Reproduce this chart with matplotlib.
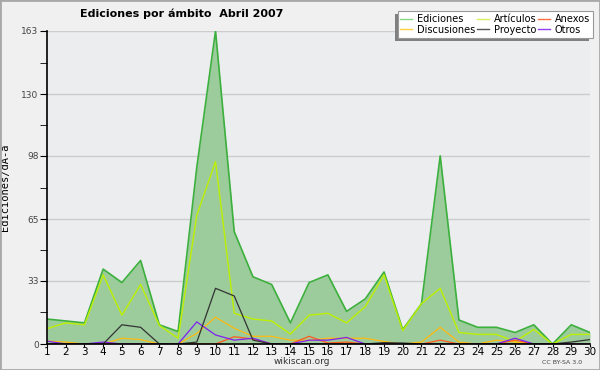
import numpy as np
import matplotlib.pyplot as plt
from matplotlib.lines import Line2D
from matplotlib.patches import Rectangle

# dias del mes
dias = list(range(1, 31))

# valores (ediciones por dia)
ediciones = [13, 12, 11, 39, 32, 43.5, 10, 6.5, 92, 163, 58.5, 35, 31, 11, 32,
             36, 17, 23.5, 37.5, 7.5, 21, 98, 12.5, 8.7, 8.7, 6, 10, 0, 10, 6]
articulos = [8, 11, 10, 36, 15, 31, 9.7, 3, 67, 95, 16, 13, 12, 5.2, 15,
             16, 11, 19.5, 36, 7, 21, 29, 6, 5, 5, 1.2, 7.6, 0, 5, 5]
discusiones = [1.5, 1, 0, 0, 3, 2.3, 0, 0, 5.5, 14, 8.2, 4, 4, 2, 2,
               3, 3, 3, 1.3, 0, 1, 8.7, 1, 0, 2, 1, 0, 0, 0, 0]
anexos = [0, 0, 0, 0, 0, 0, 0, 0, 0, 0, 3.8, 2.6, 0, 0, 4,
          0.5, 1, 0, 0, 0, 0, 2, 0, 0, 0, 2, 0, 0, 0, 0]
otros = [1.5, 0, 0, 1, 0, 0, 0, 0, 11.5, 4.7, 2, 3, 0, 0, 2,
         2, 3.4, 0, 0, 0, 0, 0, 0, 0, 0, 3, 0, 0, 0, 0]
proyecto = [0, 0, 0, 0, 10, 8.7, 0, 0, 1, 29, 25, 2, 0, 0, 0,
            0, 0, 0, 0.7, 0.5, 0, 0, 0, 0, 0, 0, 0, 0, 1, 2.3]

yticks = [0, 33, 65, 98, 130, 163]

fig = plt.figure(figsize=(6, 3.7), dpi=100, facecolor='#f0f0f0')
fig.patches.append(Rectangle((0, 0), 1, 1, transform=fig.transFigure,
                             fill=False, edgecolor='#a8a8a8', linewidth=2))

ax = fig.add_axes([47/600, 1-344/370, 543/600, 313/370])
ax.set_facecolor('#ecedef')

ax.fill_between(dias, ediciones, color='#9ccb9c', linewidth=0)
ax.plot(dias, ediciones, color='#3cb03c', linewidth=1.2)
ax.plot(dias, articulos, color='#bdf000', linewidth=1.0)
ax.plot(dias, discusiones, color='#ffbb10', linewidth=0.9)
ax.plot(dias, anexos, color='#ff5a1e', linewidth=0.9)
ax.plot(dias, otros, color='#8020f0', linewidth=0.9)
ax.plot(dias, proyecto, color='#333333', linewidth=0.9)

ax.set_xlim(1, 30)
ax.set_ylim(0, 163)
ax.set_xticks(dias)
ax.set_yticks(yticks)
ax.set_yticks([16.5, 49, 81.5, 114, 146.5], minor=True)
ax.grid(axis='y', which='major', color='#cccccc', linewidth=1)
ax.set_axisbelow(True)
for s in ['top', 'right']:
    ax.spines[s].set_visible(False)
ax.spines['left'].set_linewidth(1.2)
ax.spines['bottom'].set_linewidth(1.2)
ax.tick_params(axis='y', which='both', length=5, labelsize=6.5, labelcolor='#444444', pad=1)
ax.tick_params(axis='x', length=2, labelsize=7.5, pad=0.5)

ax.set_ylabel('Ediciones/dÃ-a', family='DejaVu Sans Mono', fontsize=7.5, labelpad=8)

fig.text(182/600, 1-14/370, 'Ediciones por ámbito  Abril 2007', ha='center', va='center',
         fontsize=8, fontweight='bold')
fig.text(302/600, 1-362/370, 'wikiscan.org', ha='center', va='center', fontsize=6.5, color='#333333')
fig.text(562/600, 1-362/370, 'CC BY-SA 3.0', ha='center', va='center', fontsize=4.5, color='#444444')

# sombra de la leyenda (abajo a la izquierda)
fig.patches.append(Rectangle((395/600, 1-40.5/370), 194/600, 26/370, transform=fig.transFigure,
                             facecolor='#808080', edgecolor='none', zorder=0.5))

handles = [Line2D([], [], color='#88d888', lw=1), Line2D([], [], color='#ffd040', lw=1),
           Line2D([], [], color='#d8f060', lw=1), Line2D([], [], color='#555555', lw=1),
           Line2D([], [], color='#ff7040', lw=1), Line2D([], [], color='#9040f0', lw=1)]
labels = ['Ediciones', 'Discusiones', 'Artículos', 'Proyecto', 'Anexos', 'Otros']
leg = fig.legend(handles, labels, ncol=3, loc='upper right', bbox_to_anchor=(593/600, 1-11/370),
                 fontsize=7, frameon=True, fancybox=False, shadow=False, handlelength=1.2,
                 handletextpad=0.5, columnspacing=0.2, labelspacing=0.1, borderpad=0.3,
                 borderaxespad=0, framealpha=1)
leg.get_frame().set_edgecolor('#999999')
leg.get_frame().set_facecolor('white')
leg.get_frame().set_linewidth(0.8)
leg.set_zorder(5)

fig.savefig('out.png', dpi=100, facecolor=fig.get_facecolor())
